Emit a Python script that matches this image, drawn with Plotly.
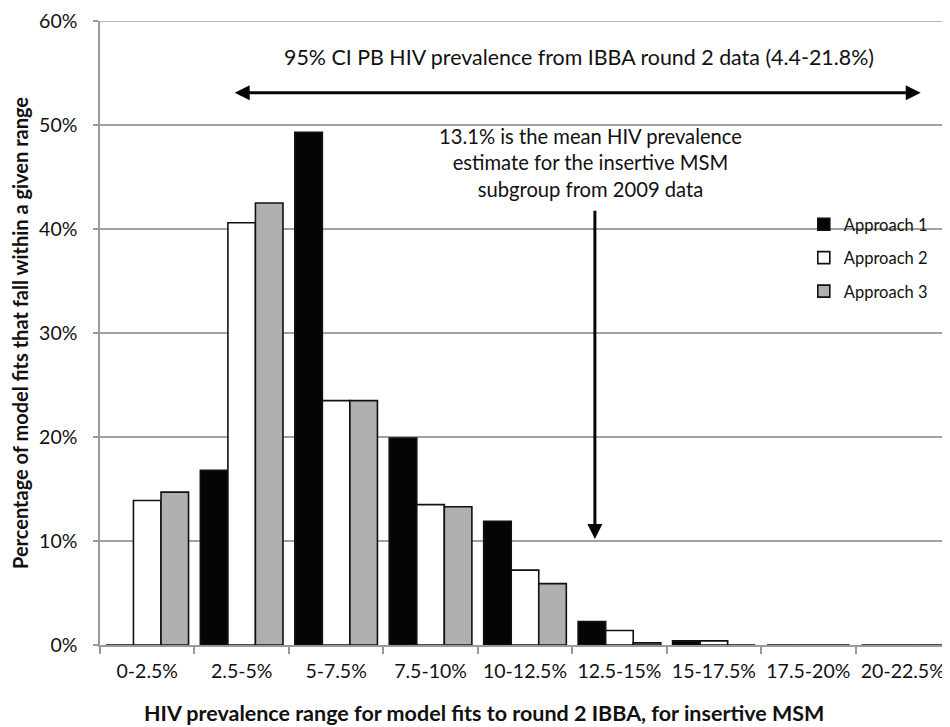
import plotly.graph_objects as go

categories = ["0-2.5%", "2.5-5%", "5-7.5%", "7.5-10%", "10-12.5%",
              "12.5-15%", "15-17.5%", "17.5-20%", "20-22.5%"]
approach1 = [0.0, 16.8, 49.3, 19.9, 11.9, 2.25, 0.4, 0.0, 0.0]
approach2 = [13.9, 40.6, 23.5, 13.5, 7.2, 1.4, 0.4, 0.0, 0.0]
approach3 = [14.7, 42.5, 23.5, 13.3, 5.9, 0.2, 0.0, 0.0, 0.0]
series_names = ["Approach 1", "Approach 2", "Approach 3"]
y_ticks = [0, 10, 20, 30, 40, 50, 60]
y_tick_labels = [f"{v}%" for v in y_ticks]

x_title = "HIV prevalence range for model fits to round 2 IBBA, for insertive MSM"
y_title = "Percentage of model fits that fall within a given range"

# annotation anchors (category index units / percent)
ci_text = "95% CI PB HIV prevalence from IBBA round 2 data (4.4-21.8%)"
ci_arrow = dict(x0=0.91, x1=8.19, y=53.1)
ci_label = dict(x=4.57, y=56.5)
mean_text = "13.1% is the mean HIV prevalence<br>estimate for the insertive MSM<br>subgroup from 2009 data"
mean_label = dict(x=4.69, y=46.4)
mean_arrow = dict(x=4.74, y0=41.9, y1=10.2)

FONT = "Lato"
INK = "#111111"
GRID = "#a0a0a0"
fills = ["#050505", "#ffffff", "#b0b0b0"]

fig = go.Figure()
for i, (name, vals, col) in enumerate(zip(series_names, [approach1, approach2, approach3], fills)):
    fig.add_trace(go.Bar(
        x=categories, y=vals, name=name, legendgroup=f"g{i}",
        marker=dict(color=col, line=dict(color=INK, width=1.6)),
    ))

fig.update_layout(
    width=950, height=727,
    margin=dict(l=92, r=8, t=13, b=90),
    paper_bgcolor="white", plot_bgcolor="white",
    barmode="group", bargap=0.125, bargroupgap=0,
    font=dict(family=FONT, size=17, color=INK),
    showlegend=True,
    legend=dict(x=0.828, y=0.702, xanchor="left", yanchor="top",
                font=dict(family=FONT, size=16.5, color=INK),
                bgcolor="rgba(0,0,0,0)", tracegroupgap=9, itemwidth=30),
    xaxis=dict(
        automargin=False,
        showline=True, linecolor="#9a9a9a", linewidth=1.5,
        ticks="outside", tickson="boundaries", ticklen=7, tickcolor="#9a9a9a", tickwidth=1.5,
        ticklabelstandoff=8,
        tickfont=dict(family=FONT, size=19.5, color=INK),
        range=[-0.5, 8.5], fixedrange=True,
    ),
    yaxis=dict(
        automargin=False,
        range=[0, 60], tickmode="array", tickvals=y_ticks, ticktext=y_tick_labels,
        ticklabeloverflow="allow",
        showgrid=True, gridcolor=GRID, gridwidth=1.5,
        showline=True, linecolor="#9a9a9a", linewidth=1.5,
        ticks="outside", ticklen=5, tickcolor="#9a9a9a", tickwidth=1.5,
        ticklabelstandoff=12,
        tickfont=dict(family=FONT, size=19.5, color=INK),
        title=dict(text=f"<b>{y_title}</b>",
                   font=dict(family=FONT, size=20, color=INK), standoff=12),
        zeroline=False,
    ),
)

# top gridline at the range edge (plotly omits it)
fig.add_shape(type="line", xref="paper", yref="y", x0=0, x1=1, y0=y_ticks[-1], y1=y_ticks[-1],
              line=dict(color=GRID, width=1.5), layer="below")

# x-axis title (placed as paper annotation to match its off-centre position)
fig.add_annotation(x=0.452, y=-0.109, xref="paper", yref="paper", text=f"<b>{x_title}</b>",
                   showarrow=False, xanchor="center", yanchor="middle",
                   font=dict(family=FONT, size=21.5, color=INK))

# double-headed horizontal arrow
fig.add_annotation(x=ci_arrow["x1"], y=ci_arrow["y"], ax=ci_arrow["x0"], ay=ci_arrow["y"],
                   xref="x", yref="y", axref="x", ayref="y", text="",
                   showarrow=True, arrowhead=2, arrowside="end+start",
                   arrowsize=1.0, arrowwidth=3, arrowcolor="#050505")
fig.add_annotation(x=ci_label["x"], y=ci_label["y"], xref="x", yref="y", text=ci_text,
                   showarrow=False, font=dict(family=FONT, size=21.4, color=INK))
# vertical arrow
fig.add_annotation(x=mean_arrow["x"], y=mean_arrow["y1"], ax=mean_arrow["x"], ay=mean_arrow["y0"],
                   xref="x", yref="y", axref="x", ayref="y", text="",
                   showarrow=True, arrowhead=2, arrowsize=1.0, arrowwidth=3, arrowcolor="#050505")
fig.add_annotation(x=mean_label["x"], y=mean_label["y"], xref="x", yref="y", text=mean_text,
                   showarrow=False, align="center",
                   font=dict(family=FONT, size=20.2, color=INK))

fig.write_html("out.html")
